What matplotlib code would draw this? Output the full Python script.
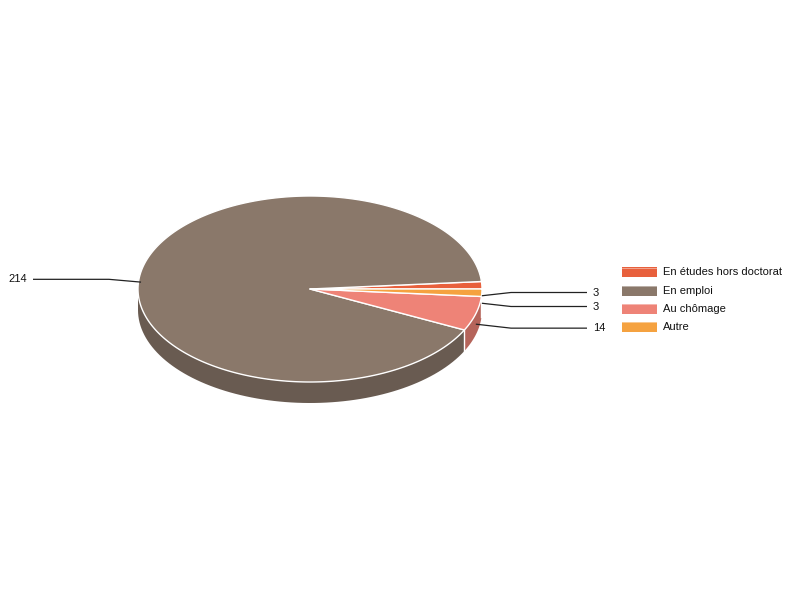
import numpy as np
import matplotlib
matplotlib.use("Agg")
import matplotlib.pyplot as plt
from matplotlib.patches import Polygon, Rectangle

plt.rcParams['font.family'] = ['Liberation Sans', 'DejaVu Sans']

categories = ["En études hors doctorat", "En emploi", "Au chômage", "Autre"]
values = [3, 214, 14, 3]
colors = ["#E8603C", "#8A786A", "#EE8377", "#F5A240"]

# layout (pixels)
CX, CY, RX, RY, DEPTH = 310, 289, 172, 93, 21
DARK = 0.76
FS = 8.0

fig = plt.figure(figsize=(8, 6), dpi=100)
ax = fig.add_axes([0, 0, 1, 1])
ax.set_xlim(0, 800)
ax.set_ylim(600, 0)
ax.axis('off')

total = sum(values)
# slices go counterclockwise starting at 3 o'clock
starts, ends = [], []
a = 0.0
for v in values:
    starts.append(a)
    a += v / total * 360.0
    ends.append(a)

def rim(t, dy=0.0):
    r = np.radians(t)
    return CX + RX * np.cos(r), CY - RY * np.sin(r) + dy

def darken(c, f):
    c = np.array(matplotlib.colors.to_rgb(c))
    return tuple(c * f)

# side walls (visible front half: 180..360 deg)
for s, e, c in zip(starts, ends, colors):
    for lo, hi in [(s, e), (s - 360, e - 360), (s + 360, e + 360)]:
        a0, a1 = max(lo, 180), min(hi, 360)
        if a1 <= a0:
            continue
        t = np.linspace(a0, a1, 80)
        xs, ys = rim(t)
        pts = list(zip(xs, ys)) + list(zip(xs[::-1], ys[::-1] + DEPTH))
        ax.add_patch(Polygon(pts, closed=True, facecolor=darken(c, DARK),
                             edgecolor='none', zorder=1))
# white dividers on side walls
for b in starts:
    bb = b % 360
    if 180 < bb < 360:
        x, y = rim(bb)
        ax.plot([x, x], [y, y + DEPTH], color='white', lw=1, zorder=2)

# top faces
for s, e, c in zip(starts, ends, colors):
    t = np.linspace(s, e, max(int((e - s) * 2), 4))
    xs, ys = rim(t)
    pts = [(CX, CY)] + list(zip(xs, ys))
    ax.add_patch(Polygon(pts, closed=True, facecolor=c, edgecolor='white',
                         lw=1, joinstyle='round', zorder=3))

# labels with leader lines
LR = RY + 15
info = []
for i, (s, e, v) in enumerate(zip(starts, ends, values)):
    m = (s + e) / 2
    sx, sy = rim(m, DEPTH / 2)
    ly = CY - LR * np.sin(np.radians(m)) + DEPTH / 2
    side = 1 if np.cos(np.radians(m)) >= 0 else -1
    info.append([i, m, sx, sy, ly, side])

# de-overlap labels on each side
GAP = 14
for side in (1, -1):
    grp = sorted([d for d in info if d[5] == side], key=lambda d: d[4])
    changed = True
    while changed:
        changed = False
        for j in range(len(grp) - 1):
            if grp[j + 1][4] - grp[j][4] < GAP - 0.01:
                mid = (grp[j + 1][4] + grp[j][4]) / 2
                grp[j][4] = mid - GAP / 2
                grp[j + 1][4] = mid + GAP / 2
                changed = True

for i, m, sx, sy, ly, side in info:
    ex = CX + side * 201
    tx = CX + side * 277
    ax.plot([sx, ex, tx], [sy, ly, ly], color='#222222', lw=0.9, zorder=4,
            solid_capstyle='butt')
    ax.text(tx + side * 6, ly, str(values[i]), ha='left' if side > 0 else 'right',
            va='center', fontsize=FS, color='#111111', zorder=5)

# legend
LX, LY0, LDY = 622, 272.3, 18.2
for k, (cat, c) in enumerate(zip(categories, colors)):
    y = LY0 + k * LDY
    ax.add_patch(Rectangle((LX, y - 5), 35, 10, facecolor=c, edgecolor='none', zorder=5))
    ax.plot([LX, LX + 35], [y - 4.5, y - 4.5], color='white', lw=0.6, alpha=0.5, zorder=6)
    ax.text(LX + 41, y, cat, ha='left', va='center', fontsize=FS, color='#111111')

fig.savefig("out.png", dpi=100)
